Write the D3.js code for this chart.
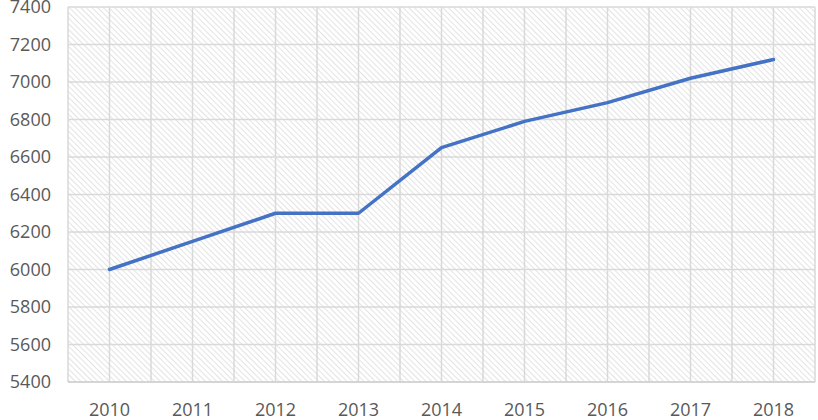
<!DOCTYPE html>
<html>
<head>
<meta charset="utf-8">
<script src="https://cdn.jsdelivr.net/npm/d3@7/dist/d3.min.js"></script>
<style>
  body { margin: 0; background: #fff; }
  svg text { font-family: "Open Sans", "Noto Sans", sans-serif; fill: #595959; }
</style>
</head>
<body>
<svg id="chart" width="818" height="420"></svg>
<script>
// values
var years = ["2010", "2011", "2012", "2013", "2014", "2015", "2016", "2017", "2018"];
var values = [6000, 6150, 6300, 6300, 6650, 6790, 6890, 7020, 7120];
var yTicks = [5400, 5600, 5800, 6000, 6200, 6400, 6600, 6800, 7000, 7200, 7400];

var svg = d3.select("#chart"),
    margin = {top: 7, right: 3, bottom: 38, left: 68},
    width = +svg.attr("width") - margin.left - margin.right,
    height = +svg.attr("height") - margin.top - margin.bottom;

// hatch fill for the plot area
var pat = svg.append("defs").append("pattern")
    .attr("id", "hatch")
    .attr("patternUnits", "userSpaceOnUse")
    .attr("width", 4).attr("height", 4)
    .attr("patternTransform", "rotate(-45)");
pat.append("line")
    .attr("x1", 0).attr("y1", 0).attr("x2", 0).attr("y2", 4)
    .attr("stroke", "#d4d4d4").attr("stroke-width", 1.3);

var g = svg.append("g").attr("transform", "translate(" + margin.left + "," + margin.top + ")");

var x = d3.scaleBand().domain(years).range([0, width]);
var y = d3.scaleLinear().domain([5400, 7400]).range([height, 0]);

g.append("rect")
    .attr("width", width).attr("height", height)
    .attr("fill", "url(#hatch)");

// horizontal gridlines
g.selectAll(".hgrid")
    .data(yTicks)
    .enter().append("line")
    .attr("class", "hgrid")
    .attr("x1", 0).attr("x2", width)
    .attr("y1", function (d) { return y(d); })
    .attr("y2", function (d) { return y(d); })
    .attr("stroke", "#d9d9d9").attr("stroke-width", 1.5);

// vertical gridlines at band edges and centres
var vx = [];
years.forEach(function (d) {
    vx.push(x(d));
    vx.push(x(d) + x.bandwidth() / 2);
});
vx.push(width);
g.selectAll(".vgrid")
    .data(vx)
    .enter().append("line")
    .attr("class", "vgrid")
    .attr("x1", function (d) { return d; }).attr("x2", function (d) { return d; })
    .attr("y1", 0).attr("y2", height)
    .attr("stroke", "#d9d9d9").attr("stroke-width", 1.5);

// bottom axis line
g.append("line")
    .attr("x1", 0).attr("x2", width)
    .attr("y1", height).attr("y2", height)
    .attr("stroke", "#d0d0d0").attr("stroke-width", 1.5);

// y labels
g.selectAll(".ylab")
    .data(yTicks)
    .enter().append("text")
    .attr("class", "ylab")
    .attr("x", -17)
    .attr("y", function (d) { return y(d); })
    .attr("dy", "0.35em")
    .attr("text-anchor", "end")
    .style("font-size", "18px")
    .text(function (d) { return d; });

// x labels
g.selectAll(".xlab")
    .data(years)
    .enter().append("text")
    .attr("class", "xlab")
    .attr("x", function (d) { return x(d) + x.bandwidth() / 2; })
    .attr("y", height + 34)
    .attr("text-anchor", "middle")
    .style("font-size", "18px")
    .text(function (d) { return d; });

var line = d3.line()
    .x(function (d, i) { return x(years[i]) + x.bandwidth() / 2; })
    .y(function (d) { return y(d); });

g.append("path")
    .datum(values)
    .attr("d", line)
    .attr("fill", "none")
    .attr("stroke", "#4472c4")
    .attr("stroke-width", 3.5)
    .attr("stroke-linejoin", "round")
    .attr("stroke-linecap", "round");
</script>
</body>
</html>
